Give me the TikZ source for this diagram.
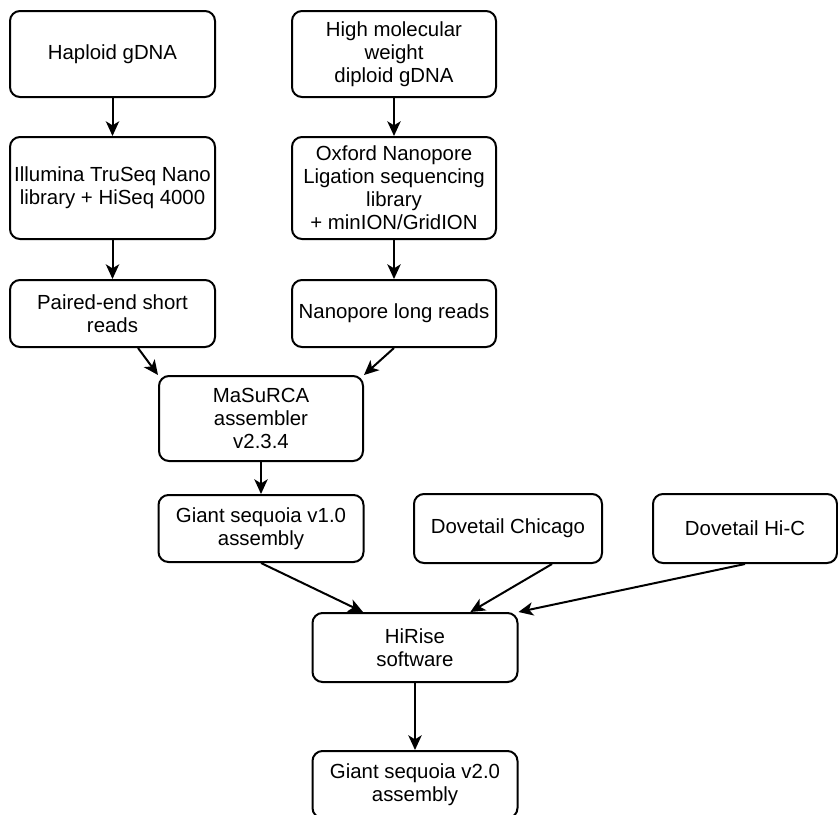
\documentclass[tikz,border=0pt]{standalone}
\usepackage{fontspec}
\setmainfont{Liberation Sans}
\usetikzlibrary{arrows.meta}

\begin{document}
\begin{tikzpicture}[x=0.75pt,y=-0.75pt,
        box/.style={draw,line width=1.5pt,rounded corners=7.5pt,align=center,inner sep=0pt,
            font=\fontsize{15.3pt}{17.25pt}\selectfont},
        arr/.style={line width=1.5pt,-{Stealth[length=11pt,width=10pt,inset=3pt]}}]
        \useasboundingbox (0,0) rectangle (838,814);

        \node[box,minimum width=153.75pt,minimum height=64.5pt] (hap) at (112.5,54) {Haploid gDNA};
        \node[box,minimum width=153pt,minimum height=64.5pt] (hmw) at (394,54) {High molecular\\weight\\diploid gDNA};
        \node[box,minimum width=153.75pt,minimum height=76.5pt] (ill) at (112.5,188) {Illumina TruSeq Nano\\library + HiSeq 4000};
        \node[box,minimum width=153pt,minimum height=76.5pt] (ont) at (394,188) {Oxford Nanopore\\Ligation sequencing\\library\\+ minION/GridION};
        \node[box,minimum width=153.75pt,minimum height=50.25pt] (pe) at (112.5,313.5) {Paired-end short\\reads};
        \node[box,minimum width=153pt,minimum height=50.25pt] (nr) at (394,313.5) {Nanopore long reads};
        \node[box,minimum width=153pt,minimum height=63.75pt] (ma) at (261,418.5) {MaSuRCA\\assembler\\v2.3.4};
        \node[box,minimum width=153.75pt,minimum height=50.25pt] (v1) at (261,528.5) {Giant sequoia v1.0\\assembly};
        \node[box,minimum width=141pt,minimum height=51.75pt] (chi) at (508,528.5) {Dovetail Chicago};
        \node[box,minimum width=138pt,minimum height=51.75pt] (hic) at (745,528.5) {Dovetail Hi-C};
        \node[box,minimum width=153.75pt,minimum height=51.75pt] (hr) at (415,647.5) {HiRise\\software};
        \node[box,minimum width=153.75pt,minimum height=50.25pt] (v2) at (415,784.5) {Giant sequoia v2.0\\assembly};

        \draw[arr] (hap.south)--(ill.north);
        \draw[arr] (hmw.south)--(ont.north);
        \draw[arr] (ill.south)--(pe.north);
        \draw[arr] (ont.south)--(nr.north);
        \draw[arr] (pe)--(ma.north west);
        \draw[arr] (nr.south)--(ma.north east);
        \draw[arr] (ma.south)--(v1.north);
        \draw[arr] (v1.south)--([xshift=-39pt]hr.north);
        \draw[arr] ([xshift=33pt]chi.south)--([xshift=41.5pt]hr.north);
        \draw[arr] (hic.south)--(hr.north east);
        \draw[arr] (hr.south)--(v2.north);

\end{tikzpicture}
\end{document}
